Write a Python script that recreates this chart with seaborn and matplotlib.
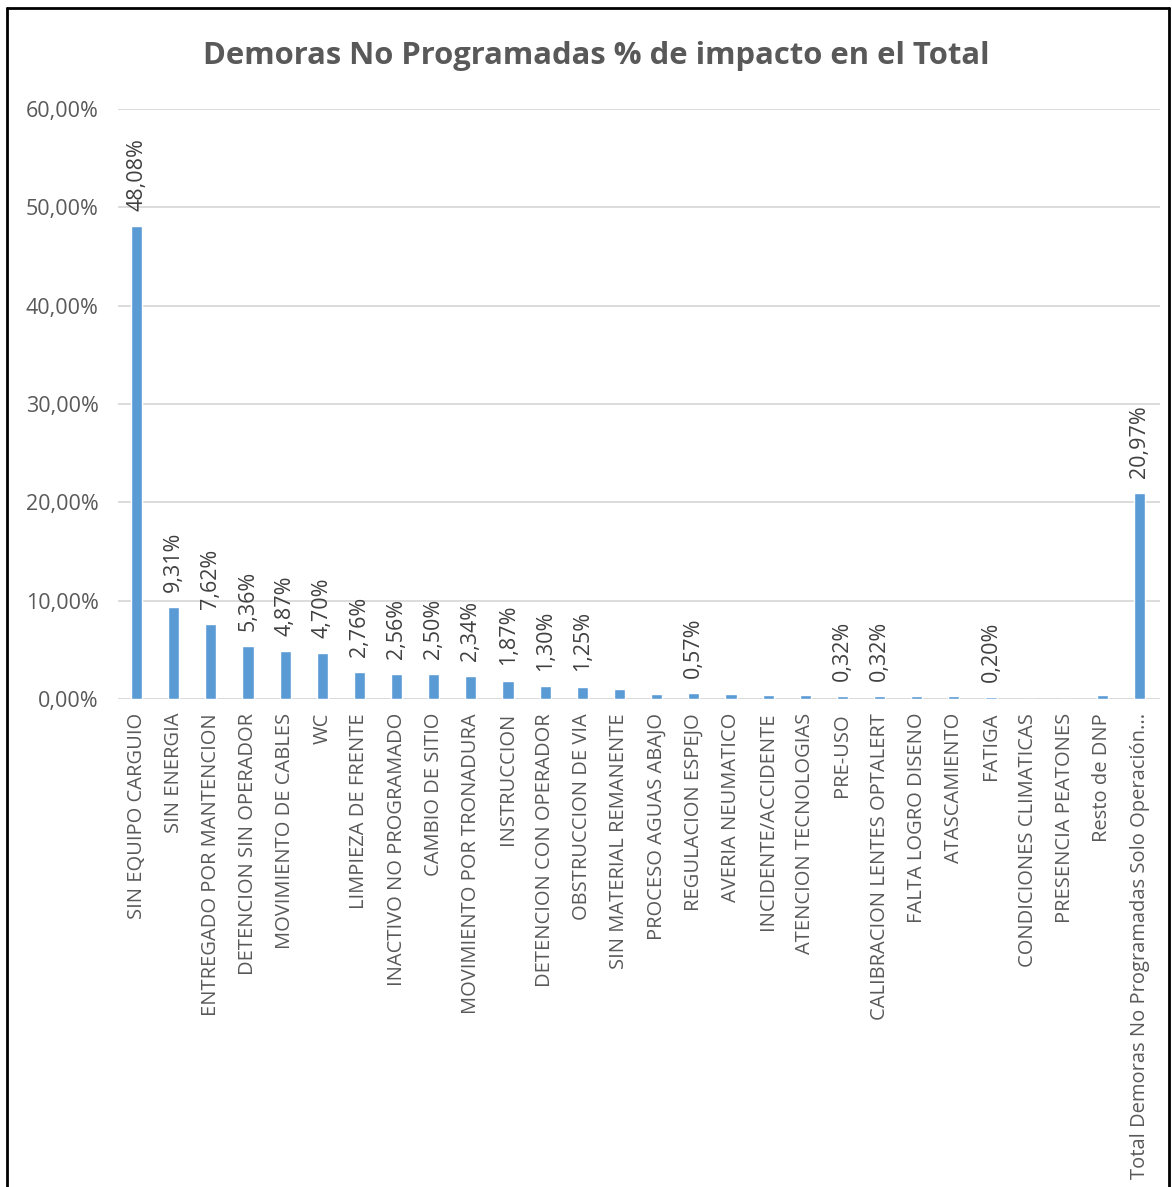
import matplotlib
matplotlib.use("Agg")
import matplotlib.pyplot as plt
import seaborn as sns
import pandas as pd
from matplotlib.lines import Line2D

categorias = [
    "SIN EQUIPO CARGUIO", "SIN ENERGIA", "ENTREGADO POR MANTENCION",
    "DETENCION SIN OPERADOR", "MOVIMIENTO DE CABLES", "WC",
    "LIMPIEZA DE FRENTE", "INACTIVO NO PROGRAMADO", "CAMBIO DE SITIO",
    "MOVIMIENTO POR TRONADURA", "INSTRUCCION", "DETENCION CON OPERADOR",
    "OBSTRUCCION DE VIA", "SIN MATERIAL REMANENTE", "PROCESO AGUAS ABAJO",
    "REGULACION ESPEJO", "AVERIA NEUMATICO", "INCIDENTE/ACCIDENTE",
    "ATENCION TECNOLOGIAS", "PRE-USO", "CALIBRACION LENTES OPTALERT",
    "FALTA LOGRO DISENO", "ATASCAMIENTO", "FATIGA",
    "CONDICIONES CLIMATICAS", "PRESENCIA PEATONES", "Resto de DNP",
    "Total Demoras No Programadas Solo Operación...",
]
valores = [
    48.08, 9.31, 7.62, 5.36, 4.87, 4.70, 2.76, 2.56, 2.50, 2.34, 1.87, 1.30,
    1.25, 1.00, 0.55, 0.57, 0.55, 0.42, 0.40, 0.32, 0.32, 0.28, 0.27, 0.20,
    0.02, 0.02, 0.42, 20.97,
]
mostrar_etiqueta = [
    True, True, True, True, True, True, True, True, True, True, True, True,
    True, False, False, True, False, False, False, True, True, False, False,
    True, False, False, False, True,
]
ticks_y = [0, 10, 20, 30, 40, 50, 60]

df = pd.DataFrame({"categoria": categorias, "valor": valores})

sns.set_theme(style="white")
plt.rcParams["font.family"] = ["Open Sans", "DejaVu Sans"]

W, H = 1172, 1187
fig = plt.figure(figsize=(W / 100, H / 100), dpi=100)
ax = fig.add_axes([118 / W, 1 - 699 / H, 1042 / W, 590 / H])

sns.barplot(data=df, x="categoria", y="valor", color="#5B9BD5",
            width=0.3, saturation=1, ax=ax, zorder=3)

ax.set_xlim(-0.5, len(categorias) - 0.45)
ax.set_ylim(0, 60)
ax.set_yticks(ticks_y)
ax.set_yticklabels([f"{t:.2f}".replace(".", ",") + "%" for t in ticks_y],
                   fontsize=15.5, color="#595959")
ax.set_xticks(range(len(categorias)))
ax.set_xticklabels(categorias, rotation=90, fontsize=14.5, color="#595959",
                   ha="center", va="top")
ax.tick_params(axis="x", length=0, pad=10)
ax.tick_params(axis="y", length=0, pad=14)
ax.set_xlabel("")
ax.set_ylabel("")
for s in ax.spines.values():
    s.set_visible(False)
ax.yaxis.grid(True, color="#D9D9D9", linewidth=1.3, zorder=0)
ax.set_axisbelow(True)
ax.axhline(0, color="#D9D9D9", linewidth=1.3, zorder=2)

for i, (v, m) in enumerate(zip(valores, mostrar_etiqueta)):
    if m:
        ax.annotate(f"{v:.2f}".replace(".", ",") + "%", (i, v),
                    xytext=(0, 11), textcoords="offset points",
                    rotation=90, ha="center", va="bottom",
                    fontsize=15.5, color="#404040")

fig.text(596 / W, 1 - 56 / H, "Demoras No Programadas % de impacto en el Total",
         ha="center", va="center", fontsize=22.3, fontweight="bold",
         color="#595959")

# chart frame
for (x0, y0, x1, y1) in [(7, 8, 1169, 8), (7, 8, 7, H), (1169, 8, 1169, H)]:
    fig.add_artist(Line2D([x0 / W, x1 / W], [1 - y0 / H, 1 - y1 / H],
                          transform=fig.transFigure, color="black",
                          linewidth=2))

fig.savefig("out.png", dpi=100)
